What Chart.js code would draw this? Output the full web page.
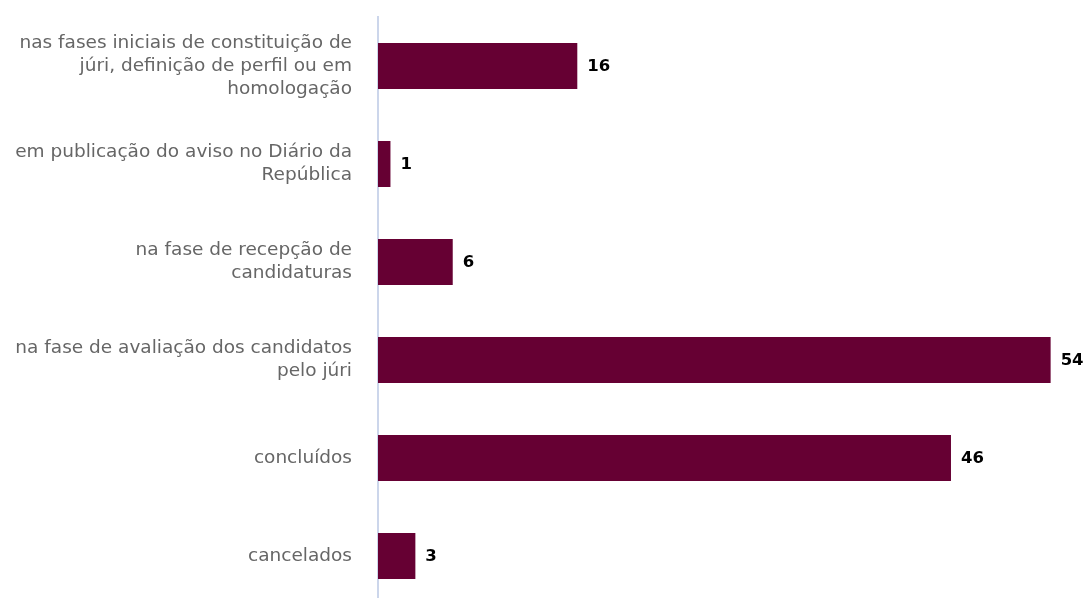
<!DOCTYPE html>
<html>
<head>
<meta charset="utf-8">
<script src="https://cdn.jsdelivr.net/npm/chart.js@4"></script>
<style>
html,body{margin:0;padding:0;background:#fff;overflow:hidden;}
#wrap{width:1088px;height:606px;position:relative;}
</style>
</head>
<body>
<div id="wrap"><canvas id="c"></canvas></div>
<script>
const categories = [
  ["nas fases iniciais de constituição de", "júri, definição de perfil ou em", "homologação"],
  ["em publicação do aviso no Diário da", "República"],
  ["na fase de recepção de", "candidaturas"],
  ["na fase de avaliação dos candidatos", "pelo júri"],
  ["concluídos"],
  ["cancelados"]
];
const values = [16, 1, 6, 54, 46, 3];

const valueLabels = {
  id: 'valueLabels',
  afterDatasetsDraw(chart) {
    const ctx = chart.ctx;
    const meta = chart.getDatasetMeta(0);
    ctx.save();
    ctx.font = 'bold 16.5px "DejaVu Sans"';
    ctx.textAlign = 'left';
    ctx.textBaseline = 'middle';
    ctx.lineJoin = 'round';
    meta.data.forEach((bar, i) => {
      const t = String(chart.data.datasets[0].data[i]);
      const x = bar.x + 10, y = bar.y + 1;
      ctx.strokeStyle = '#ffffff';
      ctx.lineWidth = 2;
      ctx.strokeText(t, x, y);
      ctx.fillStyle = '#000000';
      ctx.fillText(t, x, y);
    });
    ctx.restore();
  }
};

new Chart(document.getElementById('c'), {
  type: 'bar',
  data: {
    labels: categories,
    datasets: [{
      data: values,
      backgroundColor: '#660033',
      borderWidth: 0,
      barPercentage: 0.47,
      categoryPercentage: 1
    }]
  },
  options: {
    indexAxis: 'y',
    responsive: true,
    maintainAspectRatio: false,
    animation: false,
    layout: { padding: { top: 17, bottom: 1, left: 0, right: 0 } },
    plugins: { legend: { display: false }, tooltip: { enabled: false } },
    scales: {
      x: {
        display: false,
        min: 0,
        max: 57
      },
      y: {
        grid: { display: false, drawTicks: false },
        border: { display: true, color: '#ccd6eb', width: 2 },
        ticks: {
          color: '#666666',
          font: { family: '"DejaVu Sans"', size: 18.5, lineHeight: 1.245 },
          padding: 26,
          autoSkip: false
        },
        afterFit(scale) {
          scale.width = 378;
          scale.paddingTop = 0;
          scale.paddingBottom = 0;
        }
      }
    }
  },
  plugins: [valueLabels]
});
</script>
</body>
</html>
